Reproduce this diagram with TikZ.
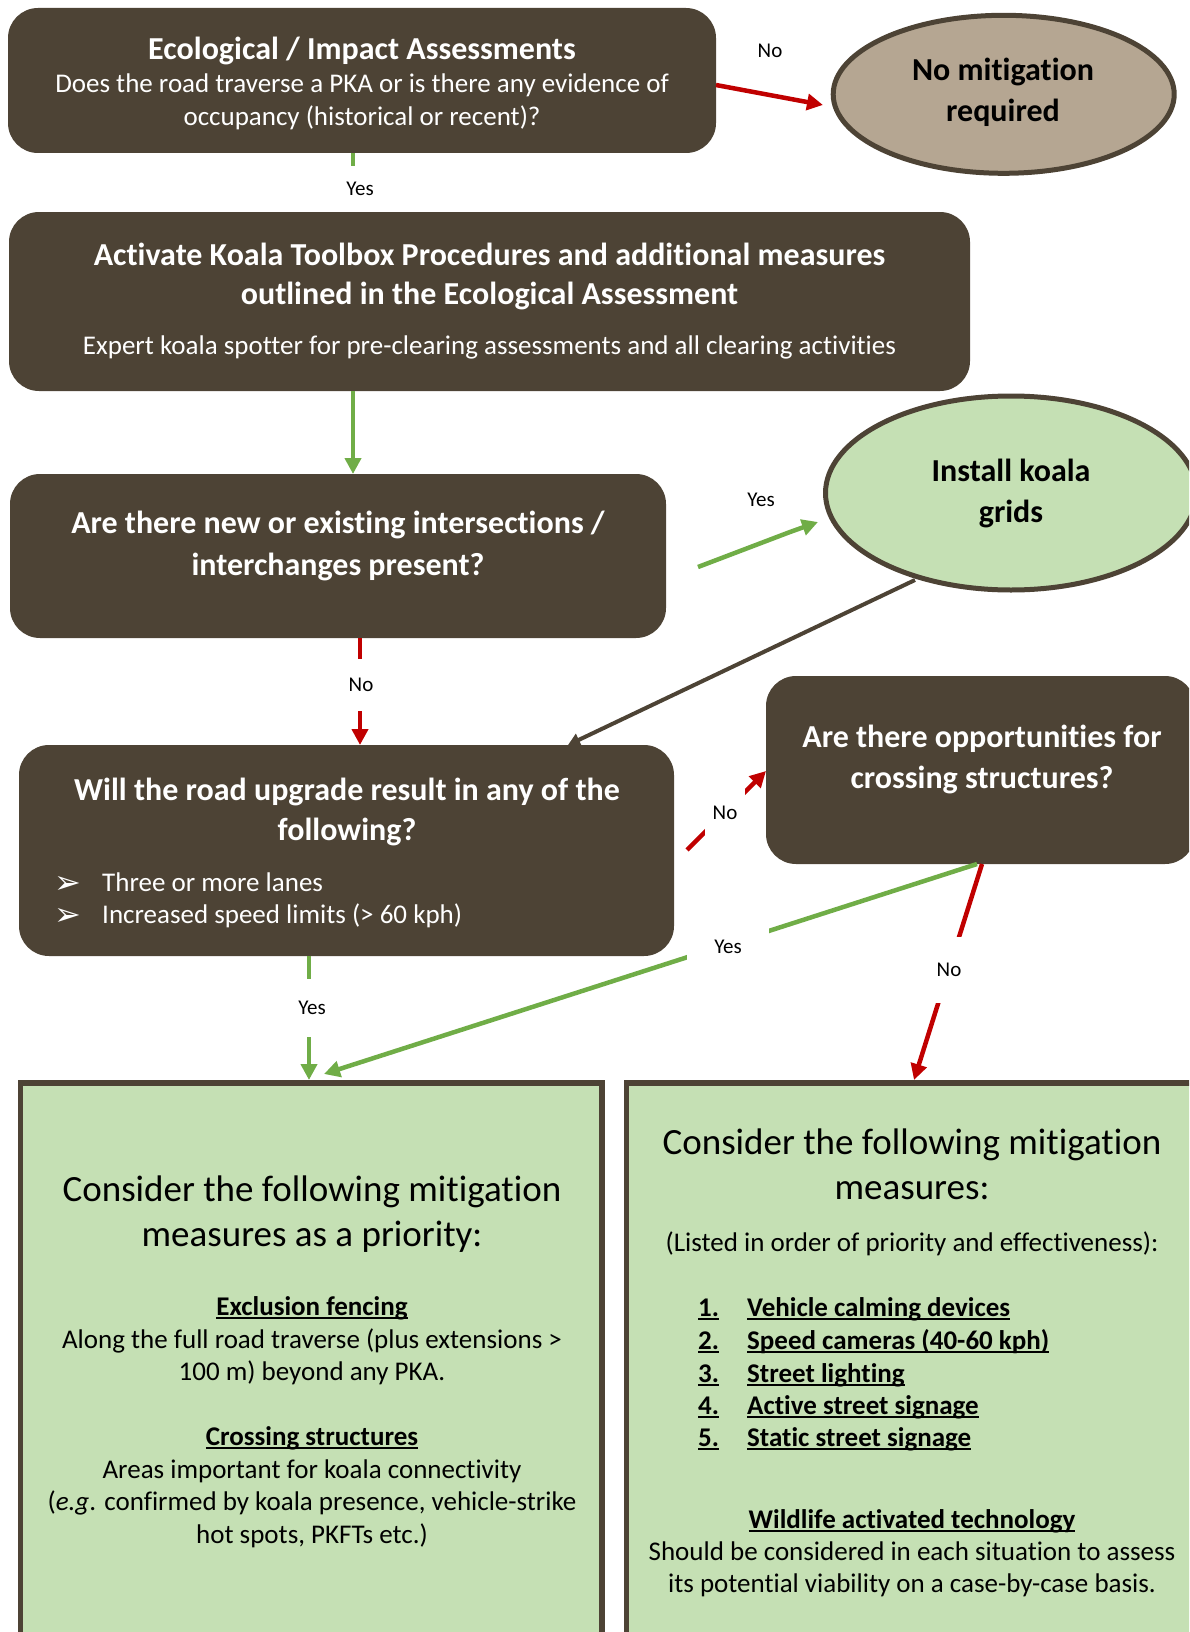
\documentclass[tikz,border=0pt]{standalone}
\usepackage{fontspec}
\setmainfont{Carlito}[Ligatures=NoCommon]
\newfontfamily\dejavu{DejaVu Sans}
\usetikzlibrary{arrows.meta,shapes.geometric}
\definecolor{boxbrown}{HTML}{4D4335}
\definecolor{tanfill}{HTML}{B5A692}
\definecolor{lgreen}{HTML}{C5E0B4}
\definecolor{agreen}{HTML}{70AD47}
\definecolor{ared}{HTML}{C00000}
\newcommand\fs[2]{\fontsize{#1}{#2}\selectfont}
\newcommand\ulx[1]{\sbox0{#1}\rlap{\rule[-3.5pt]{\wd0}{2pt}}\usebox0}
\tikzset{
  brownbox/.style={rectangle, rounded corners=30pt, fill=boxbrown, inner sep=0pt},
  greenbox/.style={rectangle, draw=boxbrown, line width=5.5pt, fill=lgreen, inner sep=0pt},
  oval/.style={ellipse, draw=boxbrown, line width=5pt, inner sep=0pt},
  wtxt/.style={text=white, inner sep=0pt, anchor=base},
  btxt/.style={text=black, inner sep=0pt, anchor=base},
  lbl/.style={font=\fs{21}{25}, text=black, fill=white, inner sep=0pt, align=center},
  gline/.style={draw=agreen, line width=4.5pt},
  garrow/.style={draw=agreen, line width=4.5pt, -{Triangle[length=16pt,width=16pt]}},
  rline/.style={draw=ared, line width=4.5pt},
  rarrow/.style={draw=ared, line width=4.5pt, -{Triangle[length=16pt,width=16pt]}},
  barrow/.style={draw=boxbrown, line width=4pt, -{Triangle[length=12pt,width=13pt]}},
  bigb/.style={font=\fs{32}{39}\bfseries},
  reg/.style={font=\fs{27}{33}},
  regb/.style={font=\fs{27}{33}\bfseries},
  head/.style={font=\fs{37}{45}},
  bull/.style={text=white, inner sep=0pt, anchor=base west, font=\dejavu\fs{32}{36}},
}
\begin{document}
\begin{tikzpicture}[x=1pt,y=-1pt]
\useasboundingbox (0,0) rectangle (1189,1632);
\clip (0,0) rectangle (1189,1632);

% ---------- boxes ----------
\node[brownbox, minimum width=708pt, minimum height=145pt] (b1) at (362,80.5) {};
\node[brownbox, minimum width=961pt, minimum height=179pt] (b2) at (489.5,301.5) {};
\node[brownbox, minimum width=656pt, minimum height=164pt] (b3) at (338,556) {};
\node[brownbox, minimum width=655pt, minimum height=211pt] (b4) at (346.5,850.5) {};
\node[brownbox, minimum width=429pt, minimum height=188pt] (b5) at (980.5,770) {};
\node[oval, fill=tanfill, minimum width=341pt, minimum height=158pt] (e1) at (1003.7,94.3) {};
\node[oval, fill=lgreen, minimum width=371pt, minimum height=194pt] (e2) at (1011,493) {};
\node[greenbox, minimum width=581.5pt, minimum height=617pt] (b6) at (311.25,1391.5) {};
\node[greenbox, minimum width=623.5pt, minimum height=617pt] (b7) at (938.25,1391.5) {};

% ---------- texts ----------
\node[wtxt, bigb] (t1a) at (362,60) {Ecological / Impact Assessments};
\node[wtxt, reg] (t1b) at (362,93) {Does the road traverse a PKA or is there any evidence of};
\node[wtxt, reg] (t1c) at (362,126) {occupancy (historical or recent)?};

\node[btxt, bigb] (te1a) at (1003,81) {No mitigation};
\node[btxt, bigb] (te1b) at (1003,122) {required};

\node[wtxt, bigb] (t2a) at (489.5,265) {Activate Koala Toolbox Procedures and additional measures};
\node[wtxt, bigb] (t2b) at (489.5,304) {outlined in the Ecological Assessment};
\node[wtxt, reg] (t2c) at (489.5,354) {Expert koala spotter for pre-clearing assessments and all clearing activities};

\node[wtxt, bigb] (t3a) at (338,533) {Are there new or existing intersections /};
\node[wtxt, bigb] (t3b) at (338,575) {interchanges present?};

\node[btxt, bigb] (te2a) at (1011,481) {Install koala};
\node[btxt, bigb] (te2b) at (1011,522) {grids};

\node[wtxt, bigb] (t4a) at (347,800) {Will the road upgrade result in any of the};
\node[wtxt, bigb] (t4b) at (347,840) {following?};
\node[bull] (k1) at (54,893) {➢};
\node[wtxt, anchor=base west, reg] (t4c) at (102,891) {Three or more lanes};
\node[bull] (k2) at (54,925) {➢};
\node[wtxt, anchor=base west, reg] (t4d) at (102,923) {Increased speed limits (> 60 kph)};

\node[wtxt, bigb] (t5a) at (982,747) {Are there opportunities for};
\node[wtxt, bigb] (t5b) at (982,788) {crossing structures?};

\node[btxt, head] (t6a) at (312,1201) {Consider the following mitigation};
\node[btxt, head] (t6b) at (312,1246) {measures as a priority:};
\node[btxt, regb] (t6c) at (312,1315) {\ulx{Exclusion fencing}};
\node[btxt, reg] (t6d) at (312,1348) {Along the full road traverse (plus extensions >};
\node[btxt, reg] (t6e) at (312,1380) {100 m) beyond any PKA.};
\node[btxt, regb] (t6f) at (312,1445) {\ulx{Crossing structures}};
\node[btxt, reg] (t6g) at (312,1478) {Areas important for koala connectivity};
\node[btxt, reg] (t6h) at (312,1510) {(\textit{e.g}. confirmed by koala presence, vehicle-strike};
\node[btxt, reg] (t6i) at (312,1543) {hot spots, PKFTs etc.)};

\node[btxt, head] (t7a) at (912,1154) {Consider the following mitigation};
\node[btxt, head] (t7b) at (912,1199) {measures:};
\node[btxt, reg] (t7c) at (912,1251) {(Listed in order of priority and effectiveness):};
\node[btxt, regb, anchor=base west] (n1) at (698,1316) {\ulx{1.}};
\node[btxt, regb, anchor=base west] (l1) at (747,1316) {\ulx{Vehicle calming devices}};
\node[btxt, regb, anchor=base west] (n2) at (698,1349) {\ulx{2.}};
\node[btxt, regb, anchor=base west] (l2) at (747,1349) {\ulx{Speed cameras (40-60 kph)}};
\node[btxt, regb, anchor=base west] (n3) at (698,1382) {\ulx{3.}};
\node[btxt, regb, anchor=base west] (l3) at (747,1382) {\ulx{Street lighting}};
\node[btxt, regb, anchor=base west] (n4) at (698,1414) {\ulx{4.}};
\node[btxt, regb, anchor=base west] (l4) at (747,1414) {\ulx{Active street signage}};
\node[btxt, regb, anchor=base west] (n5) at (698,1446) {\ulx{5.}};
\node[btxt, regb, anchor=base west] (l5) at (747,1446) {\ulx{Static street signage}};
\node[btxt, regb] (t7d) at (912,1528) {\ulx{Wildlife activated technology}};
\node[btxt, reg] (t7e) at (912,1560) {Should be considered in each situation to assess};
\node[btxt, reg] (t7f) at (912,1592) {its potential viability on a case-by-case basis.};

% ---------- connector end points ----------
\coordinate (c1a) at (716,85);   \coordinate (c1b) at (823,105);
\coordinate (c2a) at (353,153);  \coordinate (c2b) at (353,211);
\coordinate (c3a) at (353,391);  \coordinate (c3b) at (353,474);
\coordinate (c4a) at (698,567);  \coordinate (c4k) at (790,532); \coordinate (c4b) at (818,522);
\coordinate (c5a) at (915,580);  \coordinate (c5b) at (568,745);
\coordinate (c6a) at (360,638);  \coordinate (c6b) at (360,745);
\coordinate (c7a) at (687,850);  \coordinate (c7b) at (766,771);
\coordinate (c8a) at (977,864);  \coordinate (c8b) at (324,1074);
\coordinate (c9a) at (982,864);  \coordinate (c9b) at (914,1080);
\coordinate (c10a) at (309,956); \coordinate (c10b) at (309,1080);

% ---------- connectors ----------
\draw[rarrow] (c1a) -- (c1b);
\draw[gline] (c2a) -- (c2b);
\draw[garrow] (c3a) -- (c3b);
\draw[garrow] (c4a) -- (c4k) -- (c4b);
\draw[barrow] (c5a) -- (c5b);
\draw[rarrow] (c6a) -- (c6b);
\draw[rarrow] (c7a) -- (c7b);
\draw[garrow] (c8a) -- (c8b);
\draw[rarrow] (c9a) -- (c9b);
\draw[garrow] (c10a) -- (c10b);

% ---------- labels ----------
\node[lbl] (L1) at (770,51) {No};
\node[lbl, minimum width=40pt, minimum height=45pt] (L2) at (360,188.5) {Yes};
\node[lbl] (L4) at (761,500) {Yes};
\node[lbl, minimum width=36pt, minimum height=52pt] (L6) at (361,685) {No};
\node[lbl, minimum width=40pt, minimum height=48pt] (L7) at (725,813) {No};
\node[lbl, minimum width=82pt, minimum height=44pt] (L8) at (728,947) {Yes};
\node[lbl, minimum width=40pt, minimum height=66pt] (L9) at (949,970) {No};
\node[lbl, minimum width=40pt, minimum height=58pt] (L10) at (312,1008) {Yes};
\end{tikzpicture}
\end{document}
